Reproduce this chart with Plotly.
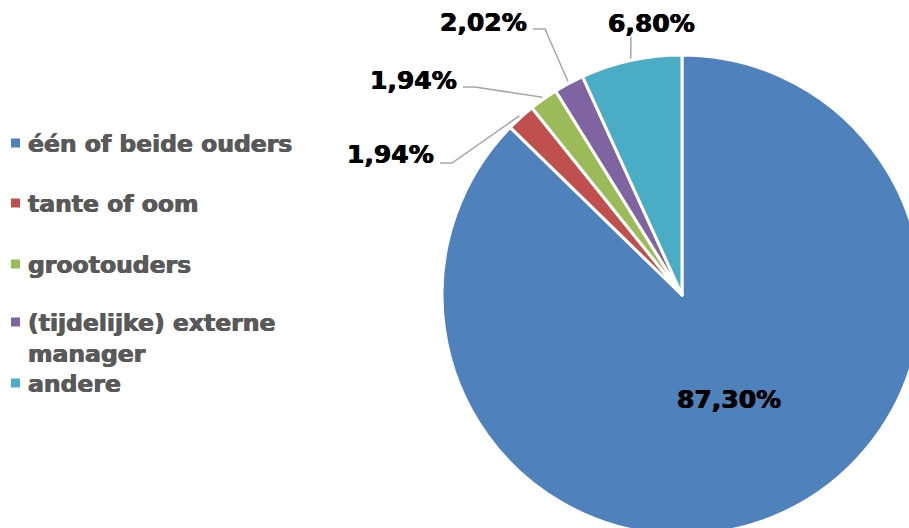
import math
import plotly.graph_objects as go

# Who runs the business: share per category (%)
categories = ["één of beide ouders", "tante of oom", "grootouders",
              "(tijdelijke) externe manager", "andere"]
legend_text = ["één of beide ouders", "tante of oom", "grootouders",
               "(tijdelijke) externe<br>manager", "andere"]
shares = [87.30, 1.94, 1.94, 2.02, 6.80]
colors = ["#4F81BD", "#C0504D", "#9BBB59", "#8064A2", "#4BACC6"]

W, H = 925, 540            # canvas (slightly larger than the view so the pie runs off the edge)
CX, CY, R = 682, 295, 240  # pie centre and radius in pixels


def px(x):
    return x / W


def py(y):
    return 1 - y / H


def pct(v):
    return f"{v:.2f}".replace(".", ",") + "%"


def heavy(color):
    # thicken the bold glyph strokes a little
    return f"0.45px 0 0 {color}, -0.45px 0 0 {color}"


label_font = dict(family="DejaVu Sans", size=25, color="black", weight="bold",
                  shadow=heavy("black"))
legend_font = dict(family="DejaVu Sans", size=23.5, color="#595959", weight="bold",
                   shadow=heavy("#595959"))

fig = go.Figure()
fig.add_trace(go.Pie(
    labels=categories,
    values=shares,
    sort=False,
    direction="clockwise",
    rotation=0,
    marker=dict(colors=colors, line=dict(color="white", width=3)),
    textinfo="none",
    hoverinfo="skip",
    showlegend=False,
    domain=dict(x=[px(CX - R), px(CX + R)], y=[py(CY + R), py(CY - R)]),
))

shapes = []
annotations = []

# Value labels: inside for the large slice, outside with elbow leaders for the rest
label_pos = {0: (729, 399), 1: (390, 155), 2: (413, 80), 3: (483, 22), 4: (651, 23)}
leader_start = {1: [(440, 163), (452, 163)],
                2: [(463, 87), (475, 87)],
                3: [(533, 29), (545, 29)],
                4: [(631, 37)]}
total = sum(shares)
cum = 0.0
for i, v in enumerate(shares):
    mid = (cum + v / 2) / total
    cum += v
    lx, ly = label_pos[i]
    annotations.append(dict(
        x=px(lx), y=py(ly), xref="paper", yref="paper",
        text=pct(v), showarrow=False, xanchor="center", yanchor="middle",
        font=label_font,
    ))
    if i == 0:
        continue
    ang = 2 * math.pi * mid
    ex = CX + (R + 2) * math.sin(ang)
    ey = CY - (R + 2) * math.cos(ang)
    pts = leader_start[i] + [(ex, ey)]
    path = "M " + " L ".join(f"{px(x):.5f},{py(y):.5f}" for x, y in pts)
    shapes.append(dict(type="path", xref="paper", yref="paper", path=path,
                       line=dict(color="#A6A6A6", width=1.5)))

# Legend on the left
legend_y = [143, 203, 264, 322, 383]
for i, (txt, col) in enumerate(zip(legend_text, colors)):
    y = legend_y[i]
    shapes.append(dict(type="rect", xref="paper", yref="paper",
                       x0=px(11), x1=px(20), y0=py(y - 4.5), y1=py(y + 4.5),
                       fillcolor=col, line=dict(width=0)))
    nlines = txt.count("<br>") + 1
    annotations.append(dict(
        x=px(26), y=py(y + 1 + (nlines - 1) * 15.5), xref="paper", yref="paper",
        text=txt, showarrow=False, xanchor="left", yanchor="middle", align="left",
        font=legend_font,
    ))

fig.update_layout(
    width=W, height=H,
    margin=dict(l=0, r=0, t=0, b=0),
    paper_bgcolor="white",
    plot_bgcolor="white",
    shapes=shapes,
    annotations=annotations,
)

fig.write_html(
    "out.html",
    post_script="document.body.style.margin='0';"
                "document.body.style.overflow='hidden';"
                "document.documentElement.style.overflow='hidden';",
)
